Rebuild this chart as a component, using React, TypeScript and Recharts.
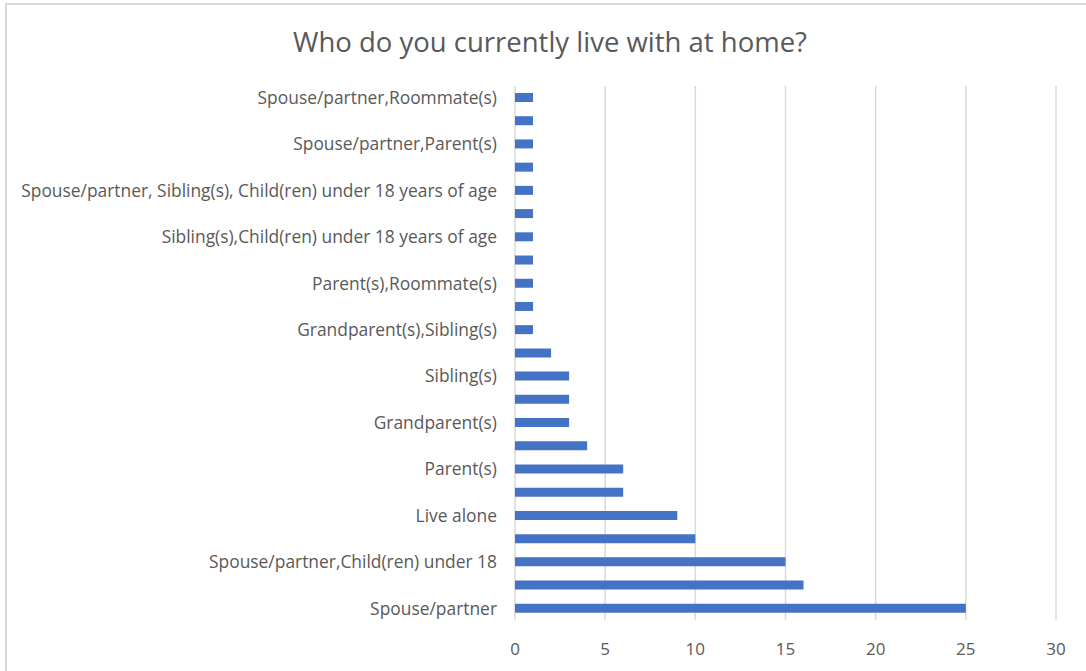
import { Bar, BarChart, CartesianGrid, XAxis, YAxis } from "recharts";

// top to bottom, as Excel draws a reversed category axis
const categories = [
  "Spouse/partner,Roommate(s)",
  "Spouse/partner,Parent(s),Child(ren) under 18",
  "Spouse/partner,Parent(s)",
  "Spouse/partner,Grandparent(s)",
  "Spouse/partner, Sibling(s), Child(ren) under 18 years of age",
  "Parent(s),Sibling(s),Child(ren) under 18",
  "Sibling(s),Child(ren) under 18 years of age",
  "Parent(s),Spouse/partner",
  "Parent(s),Roommate(s)",
  "Grandparent(s),Parent(s)",
  "Grandparent(s),Sibling(s)",
  "Parent(s),Child(ren) under 18",
  "Sibling(s)",
  "Parent(s),Sibling(s)",
  "Grandparent(s)",
  "Child(ren) under 18",
  "Parent(s)",
  "Roommate(s)",
  "Live alone",
  "Spouse/partner,Sibling(s)",
  "Spouse/partner,Child(ren) under 18",
  "Spouse/partner,Child(ren) 18 or older",
  "Spouse/partner",
];
const counts = [1, 1, 1, 1, 1, 1, 1, 1, 1, 1, 1, 2, 3, 3, 3, 4, 6, 6, 9, 10, 15, 16, 25];
const xTicks = [0, 5, 10, 15, 20, 25, 30];

const rows = categories.map((name, i) => ({ name, count: counts[i] }));

const font = "'Open Sans', sans-serif";
const grey = "#595959";

export default function App() {
  return (
    <div style={{ position: "absolute", left: 0, top: 0, width: 1086, height: 671, overflow: "hidden", background: "#fff", fontFamily: font }}>
      <div style={{ position: "absolute", left: 5, top: 3, width: 1200, height: 800, border: "2px solid #d9d9d9" }} />
      <div style={{ position: "absolute", left: 0, top: 25, width: 1100, textAlign: "center", fontSize: 27.5, color: grey, lineHeight: "34px" }}>
        Who do you currently live with at home?
      </div>
      <div style={{ position: "absolute", left: 0, top: 0 }}>
        <BarChart width={1086} height={671} data={rows} layout="vertical" margin={{ top: 86, right: 30, bottom: 21, left: 0 }}>
          <CartesianGrid horizontal={false} stroke="#d9d9d9" strokeWidth={1.5} />
          <XAxis
            type="number"
            domain={[0, 30]}
            ticks={xTicks}
            axisLine={false}
            tickLine={false}
            tickSize={0}
            tickMargin={23}
            height={30}
            tick={{ fontSize: 17, fill: grey, fontFamily: font }}
          />
          <YAxis
            type="category"
            dataKey="name"
            width={515}
            interval={1}
            axisLine={false}
            tickLine={false}
            tickSize={0}
            tickMargin={18}
            tick={{ fontSize: 17.4, fill: grey, fontFamily: font }}
          />
          <Bar dataKey="count" fill="#4472c4" barSize={9} isAnimationActive={false} />
        </BarChart>
      </div>
    </div>
  );
}
